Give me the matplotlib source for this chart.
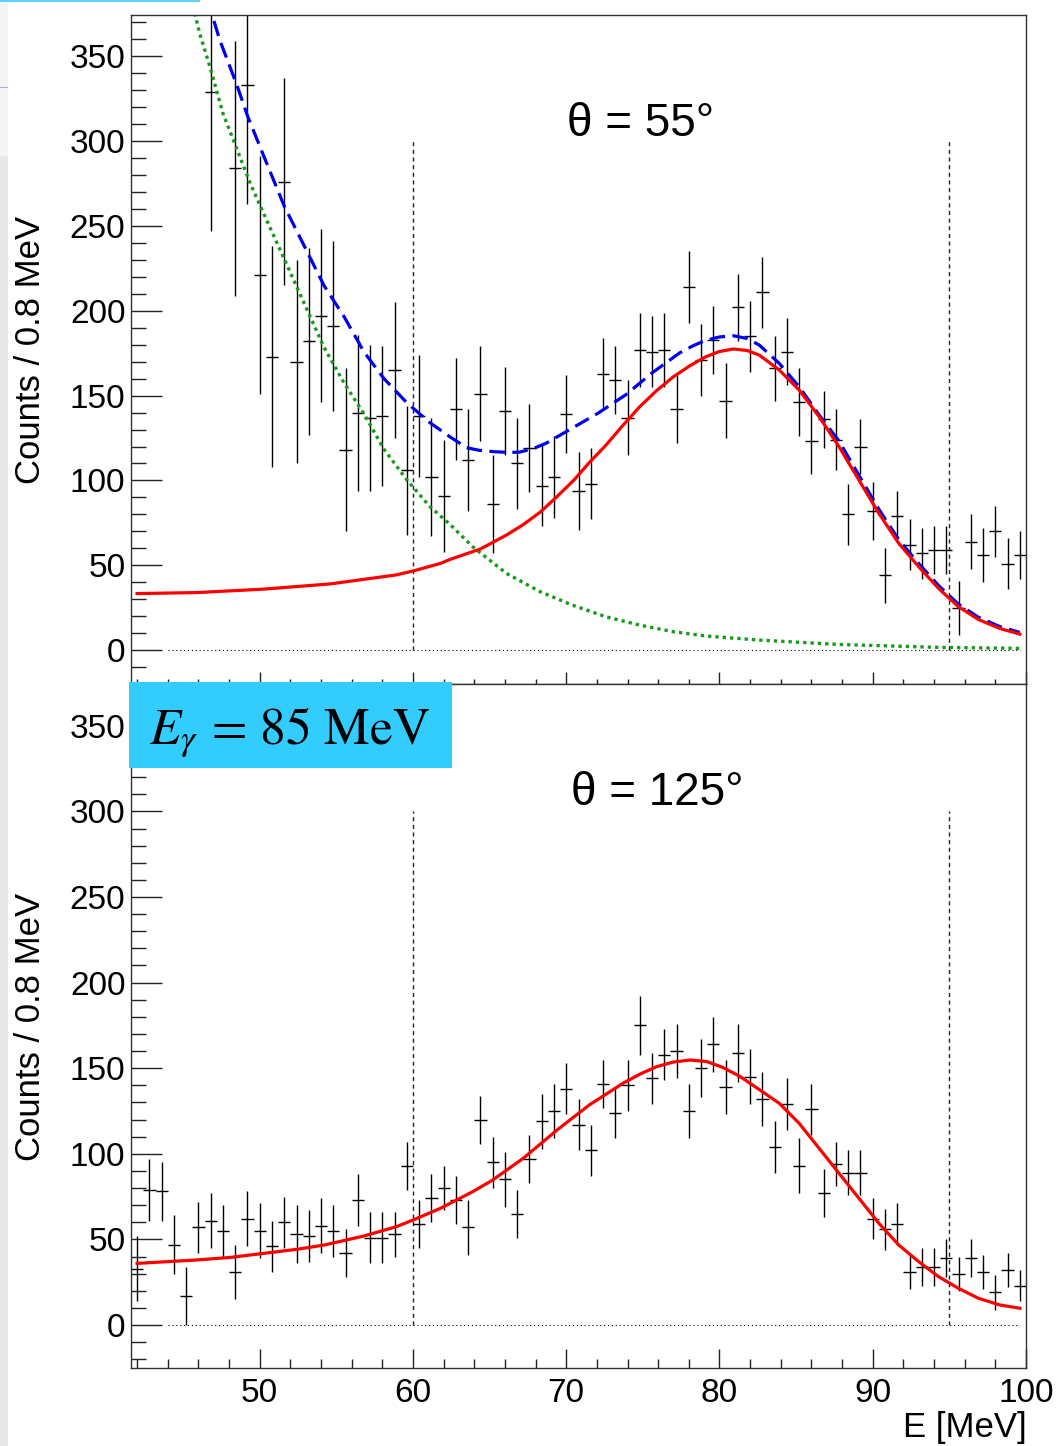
import numpy as np
import matplotlib
matplotlib.use("Agg")
import matplotlib.pyplot as plt
from matplotlib.patches import Rectangle

plt.rcParams['font.family'] = ['Liberation Sans', 'DejaVu Sans']
plt.rcParams['mathtext.fontset'] = 'stix'

#---------------------------- data ----------------------------
# 73 bins of 0.8 MeV from 41.6 to 100 MeV
e_bins = np.round(41.6 + 0.8 * (np.arange(73) + 0.5), 1)
nan = np.nan

# theta = 55 deg
cnt55 = [nan, nan, nan, nan, nan, nan, 329, nan, 284, 333,
         221, 173, 276, 170, 182, 197, 191, 118, 140, 137,
         138, 165, 106, 138, 102, 91, 142, 112, 151, 86,
         141, 110, 119, 97, 102, 139, 94, 98, 163, 159,
         137, 177, 176, 177, 142, 214, 171, 183, 147, 202,
         185, 211, 166, 176, 146, 123, 136, 124, 80, 120,
         82, 44, 79, 62, 57, 59, 59, 25, 64, 56,
         70, 51, 56]
err55 = [nan, nan, nan, nan, nan, nan, 82, nan, 75, 70,
         70, 65, 61, 60, 55, 51, 50, 48, 46, 43,
         41, 40, 38, 36, 35, 33, 30, 30, 28, 29,
         26, 27, 26, 24, 24, 23, 23, 21, 21, 20,
         22, 22, 21, 22, 20, 21, 21, 20, 22, 20,
         21, 21, 19, 20, 20, 19, 17, 18, 18, 16,
         17, 16, 15, 15, 15, 14, 14, 16, 16, 16,
         15, 15, 14]

# theta = 125 deg
cnt125 = [33, 79, 78, 47, 17, 57, 61, 55, 31, 62,
          55, 46, 60, 53, 52, 58, 55, 42, 73, 51,
          51, 53, 93, 59, 74, 80, 73, 57, 120, 95,
          85, 65, 97, 119, 125, 138, 117, 102, 141, 124,
          140, 175, 144, 158, 160, 125, 150, 164, 139, 159,
          145, 132, 104, 129, 93, 126, 77, 94, 89, 89,
          62, 56, 59, 31, 34, 34, 39, 30, 39, 31,
          19, 32, 23]
err125 = [19, 18, 17, 17, 17, 15, 16, 15, 16, 16,
          16, 15, 15, 17, 15, 16, 15, 14, 15, 15,
          15, 13, 14, 14, 14, 13, 14, 16, 14, 15,
          16, 14, 14, 16, 16, 15, 15, 15, 14, 15,
          15, 17, 15, 15, 16, 16, 17, 16, 16, 17,
          16, 16, 15, 15, 16, 15, 14, 13, 13, 13,
          12, 12, 12, 10, 11, 11, 11, 10, 11, 10,
          10, 10, 9]

# fit curves
sig55_e = [42.0, 45.9, 50.2, 54.6, 58.9, 60.0, 61.8, 62.4, 64.4, 66.1,
           67.2, 68.3, 69.4, 70.5, 71.5, 72.6, 73.7, 74.8, 75.9, 77.0,
           78.1, 79.1, 80.0, 80.9, 81.8, 82.6, 83.9, 85.2,
           86.5, 87.8, 89.1, 90.4, 91.7, 93.0, 94.3, 95.6, 96.9, 98.3, 99.6]
sig55_y = [33.3, 33.9, 35.9, 39.0, 44.3, 46.6, 51.1, 53.4, 59.6, 67.8,
           74.0, 81.3, 90.5, 100.2, 110.5, 120.9, 132.5, 143.5, 153.0, 161.2,
           167.8, 172.9, 176.0, 177.5, 176.6, 173.9, 165.1, 153.3,
           137.6, 119.9, 100.2, 80.6, 62.9, 49.1, 36.3, 25.5, 18.0, 12.7, 9.4]

tot55_e = [46.3, 47.4, 48.5, 49.2, 50.3, 51.6, 52.9, 54.2, 55.5, 56.8,
           58.1, 59.6, 61.1, 62.4, 63.5, 64.3, 65.2, 66.1, 66.9, 67.8, 68.7,
           70.4, 72.1, 73.9, 75.6, 77.4, 78.3, 79.1, 80.0, 80.9, 81.8, 82.6,
           83.9, 85.2, 86.5, 87.8, 89.1, 90.4, 91.7, 93.0, 94.3, 95.6, 96.9,
           98.3, 99.6]
tot55_y = [392, 359.4, 333.3, 315, 290.4, 261.7, 238.3, 214.8, 196.6, 175.8,
           160.1, 145.8, 134.1, 125.8, 119.3, 117.8, 117.0, 116.6, 116.6, 118.6, 122.0,
           130.9, 139.8, 150.6, 163.4, 175.2, 179.5, 182.6, 184.6, 185.3, 183.7, 179.8,
           169.0, 155.2, 138.6, 123.2, 103.0, 83.0, 65.0, 51.0, 38.0, 27.0, 19.3,
           13.8, 10.4]

bg55_e = [45.3, 46.1, 46.8, 47.6, 48.5, 49.4, 50.3, 51.6, 52.9, 54.2,
          55.5, 56.8, 58.1, 59.6, 61.1, 62.4, 63.9, 66.1, 68.3, 70.4,
          72.6, 74.8, 77.0, 79.1, 82.6, 87.8, 94.3, 99.6]
bg55_y = [392, 363, 342.4, 316.4, 295.6, 274.7, 256.5, 230.5, 204.4, 178.4,
          157.5, 139.3, 118.5, 100.3, 84.6, 74.2, 60.9, 45.2, 34.4, 26.5,
          19.6, 14.7, 10.8, 8.3, 5.9, 3.3, 1.6, 1.0]

sig125_e = [42.0, 45.9, 48.1, 50.3, 52.4, 54.2, 56.8, 58.9, 60.0, 61.8,
            63.9, 65.2, 67.2, 69.4, 71.5, 73.7, 74.8, 75.9, 77.0, 78.1, 79.2,
            80.2, 81.3, 82.6, 83.9, 85.2, 86.5, 87.8, 89.1, 90.4, 91.7, 93.0,
            94.3, 95.6, 96.9, 98.3, 99.6]
sig125_y = [36.0, 38.0, 39.5, 41.9, 44.2, 46.7, 52.0, 57.4, 61.3, 68.2,
            77.9, 84.7, 97.4, 113.9, 128.5, 141.2, 146.5, 150.9, 153.6, 154.8, 153.8,
            150.5, 145.4, 137.5, 129.5, 117.8, 103.2, 88.6, 74.0, 59.4, 46.7, 37.0,
            28.2, 21.4, 15.6, 11.7, 9.8]

fit_range = [60, 95]
#--------------------------------------------------------------

W, H = 1061, 1446
fig = plt.figure(figsize=(W / 100, H / 100), dpi=100)

def box(x0, y0, x1, y1):
    return [x0 / W, 1 - y1 / H, (x1 - x0) / W, (y1 - y0) / H]

ax1 = fig.add_axes(box(131, 15, 1026, 684))
ax2 = fig.add_axes(box(131, 684, 1026, 1368))

def style(ax, ylim, xmaj, xmin):
    ax.set_xlim(41.6, 100)
    ax.set_ylim(*ylim)
    ax.set_xticks(np.arange(50, 101, 10))
    ax.set_xticks(np.arange(42, 101, 2), minor=True)
    ax.set_yticks(np.arange(0, 351, 50))
    ax.set_yticks(np.arange(-20, 371, 10), minor=True)
    ax.tick_params(axis='both', which='both', direction='in', top=False, right=False,
                   width=1.0, colors='#222222', labelsize=24, labelcolor='black')
    ax.tick_params(axis='y', which='major', length=22, pad=4)
    ax.tick_params(axis='y', which='minor', length=11)
    ax.tick_params(axis='x', which='major', length=xmaj, pad=7)
    ax.tick_params(axis='x', which='minor', length=xmin)
    for s in ax.spines.values():
        s.set_color('#333333')
        s.set_linewidth(1.0)
    # zero line and fit-range markers
    ax.plot([44.0, 99.6], [0, 0], color='black', lw=0.8, dashes=(1, 2.5))
    for xv in fit_range:
        ax.plot([xv, xv], [0, 300], color='#222222', lw=1.0, dashes=(3, 2.5))

style(ax1, (-20, 374.4), 8.6, 3.3)
style(ax2, (-25.1, 374.4), 13.7, 6.5)
ax1.tick_params(axis='x', labelbottom=False)

# top panel
ax1.errorbar(e_bins, cnt55, yerr=err55, xerr=0.4, fmt='none', ecolor='black',
             elinewidth=1.0, capsize=0)
ax1.plot(bg55_e, bg55_y, color='#1a9a1a', lw=2.4, dashes=(1, 1.2))
ax1.plot(tot55_e, tot55_y, color='#0000ee', lw=2.3, dashes=(4.9, 2.3))
ax1.plot(sig55_e, sig55_y, color='#ff0000', lw=2.3)
fig.text(641 / W, 1 - 124 / H, '\u03b8 = 55\u00b0', fontsize=33, ha='center', va='center')

# bottom panel
ax2.errorbar(e_bins, cnt125, yerr=err125, xerr=0.4, fmt='none', ecolor='black',
             elinewidth=1.0, capsize=0)
ax2.plot(sig125_e, sig125_y, color='#ff0000', lw=2.3)
fig.text(657 / W, 1 - 793 / H, '\u03b8 = 125\u00b0', fontsize=33, ha='center', va='center')

# axis titles
fig.text(31 / W, 1 - 350 / H, 'Counts / 0.8 MeV', rotation=90, fontsize=25,
         ha='center', va='center')
fig.text(31 / W, 1 - 1027 / H, 'Counts / 0.8 MeV', rotation=90, fontsize=25,
         ha='center', va='center')
fig.text(1027 / W, 1 - 1428 / H, 'E [MeV]', fontsize=25, ha='right', va='center')

# E_gamma label box
fig.add_artist(Rectangle((129 / W, 1 - 768 / H), (452 - 129) / W, (768 - 682) / H,
                         transform=fig.transFigure, facecolor='#33ccff',
                         edgecolor='none', zorder=5))
fig.text(149 / W, 1 - 744 / H, r'$E_{\gamma}\,=\,85\ \mathrm{MeV}$', fontsize=37,
         ha='left', va='baseline', zorder=6)

# screenshot edge strips
fig.add_artist(Rectangle((0, 1 - 156 / H), 8 / W, 156 / H, transform=fig.transFigure,
                         facecolor='#f4f4f4', edgecolor='none', zorder=5))
fig.add_artist(Rectangle((0, 0), 8 / W, 1 - 156 / H, transform=fig.transFigure,
                         facecolor='#e8e8e8', edgecolor='none', zorder=5))
fig.add_artist(Rectangle((0, 1 - 88 / H), 8 / W, 1.5 / H, transform=fig.transFigure,
                         facecolor='#9fb4cc', edgecolor='none', zorder=5))
fig.add_artist(Rectangle((0, 1 - 2 / H), 200 / W, 2 / H, transform=fig.transFigure,
                         facecolor='#5cd2f6', edgecolor='none', zorder=5))

fig.savefig('out.png', dpi=100)
